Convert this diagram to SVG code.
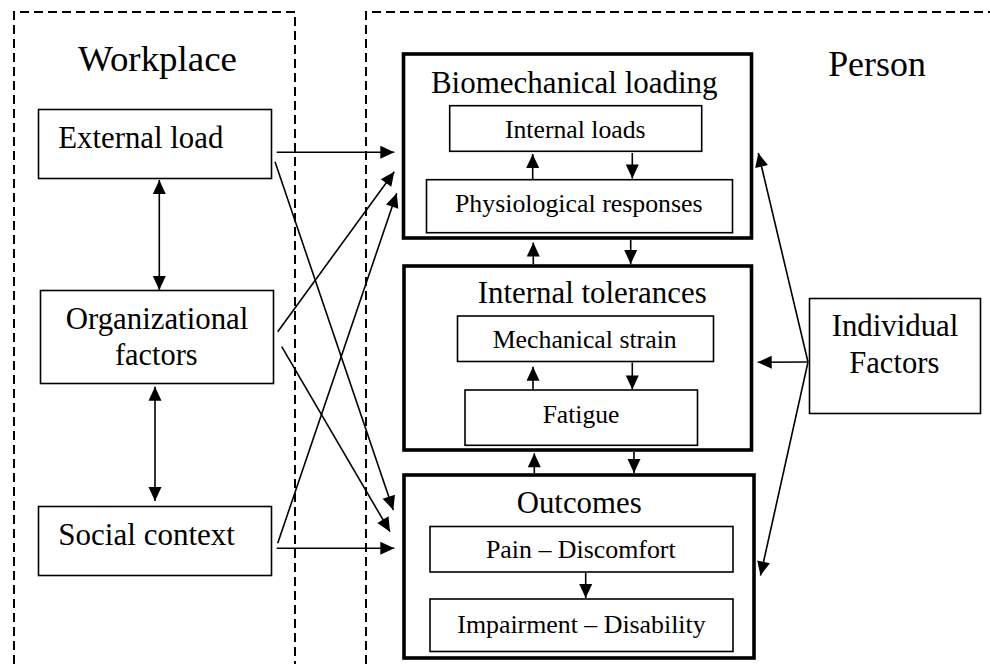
<svg xmlns="http://www.w3.org/2000/svg" width="990" height="664" viewBox="0 0 990 664" font-family="Liberation Serif, Times New Roman, Times, serif">
  <defs>
    <marker id="head" markerUnits="userSpaceOnUse" markerWidth="15" markerHeight="14" refX="14" refY="6.5" orient="auto-start-reverse" overflow="visible">
      <path d="M0,0 L14,6.5 L0,13 Z" fill="#000"/>
    </marker>
    <style>
      .frame { fill: none; stroke: #000; stroke-width: 2; stroke-dasharray: 9 5; }
      .box { fill: #fff; stroke: #000; stroke-width: 1.6; }
      .outer { fill: #fff; stroke: #000; stroke-width: 3.6; }
      text { fill: #000; }
      .big { font-size: 36px; }
      .main { font-size: 31px; }
      .sub { font-size: 26px; }
      .mid { text-anchor: middle; }
      .conn line { stroke: #000; stroke-width: 1.6; marker-end: url(#head); }
      .conn line.both { marker-start: url(#head); }
    </style>
  </defs>
  <rect width="990" height="664" fill="#fff"/>

  <!-- dashed frames: workplace and person -->
  <g id="frames">
    <path class="frame" d="M14,664 V12 H295 V664"/>
    <path class="frame" d="M366,664 V12 H990"/>
    <text class="big mid" x="157.5" y="71" textLength="159" lengthAdjust="spacingAndGlyphs">Workplace</text>
    <text class="big mid" x="877" y="76" textLength="97.7" lengthAdjust="spacingAndGlyphs">Person</text>
  </g>

  <!-- workplace nodes -->
  <g id="external-load">
    <rect class="box" x="38.5" y="109.5" width="233" height="69"/>
    <text class="main" x="58.3" y="148" textLength="165" lengthAdjust="spacingAndGlyphs">External load</text>
  </g>
  <g id="organizational-factors">
    <rect class="box" x="40.5" y="290.5" width="233" height="93"/>
    <text class="main mid" x="157" y="329.3" textLength="182.7" lengthAdjust="spacingAndGlyphs">Organizational</text>
    <text class="main mid" x="156.3" y="365" textLength="82.7" lengthAdjust="spacingAndGlyphs">factors</text>
  </g>
  <g id="social-context">
    <rect class="box" x="38.5" y="506.5" width="233" height="69"/>
    <text class="main" x="58.3" y="545" textLength="176.7" lengthAdjust="spacingAndGlyphs">Social context</text>
  </g>

  <!-- person nodes -->
  <g id="biomechanical-loading">
    <rect class="outer" x="403.5" y="54" width="348" height="184"/>
    <text class="main mid" x="574.3" y="93.3" textLength="286.7" lengthAdjust="spacingAndGlyphs">Biomechanical loading</text>
    <rect class="box" x="449.7" y="105.7" width="252" height="45.6"/>
    <text class="sub mid" x="575.3" y="137.7" textLength="140.7" lengthAdjust="spacingAndGlyphs">Internal loads</text>
    <rect class="box" x="426.5" y="179.7" width="306" height="53"/>
    <text class="sub mid" x="578.8" y="212.3" textLength="247.7" lengthAdjust="spacingAndGlyphs">Physiological responses</text>
  </g>
  <g id="internal-tolerances">
    <rect class="outer" x="404" y="266" width="347.5" height="184"/>
    <text class="main mid" x="592.2" y="303.3" textLength="229" lengthAdjust="spacingAndGlyphs">Internal tolerances</text>
    <rect class="box" x="457.5" y="316" width="256" height="45.5"/>
    <text class="sub mid" x="584.7" y="348.3" textLength="184" lengthAdjust="spacingAndGlyphs">Mechanical strain</text>
    <rect class="box" x="465" y="390" width="232.5" height="55.3"/>
    <text class="sub mid" x="581" y="423.3" textLength="76.7" lengthAdjust="spacingAndGlyphs">Fatigue</text>
  </g>
  <g id="outcomes">
    <rect class="outer" x="404" y="475" width="350" height="183"/>
    <text class="main mid" x="579.2" y="512.7" textLength="125" lengthAdjust="spacingAndGlyphs">Outcomes</text>
    <rect class="box" x="430" y="526.5" width="303" height="45.5"/>
    <text class="sub mid" x="580.8" y="558.3" textLength="189.7" lengthAdjust="spacingAndGlyphs">Pain – Discomfort</text>
    <rect class="box" x="430" y="599" width="303" height="52.5"/>
    <text class="sub mid" x="581.5" y="633.3" textLength="248.3" lengthAdjust="spacingAndGlyphs">Impairment – Disability</text>
  </g>
  <g id="individual-factors">
    <rect class="box" x="809.5" y="298.5" width="171" height="115"/>
    <text class="main mid" x="895" y="336" textLength="126.7" lengthAdjust="spacingAndGlyphs">Individual</text>
    <text class="main mid" x="894.3" y="373.3" textLength="90" lengthAdjust="spacingAndGlyphs">Factors</text>
  </g>

  <!-- connectors -->
  <g id="connectors" class="conn">
    <line x1="276.7" y1="152.3" x2="394.3" y2="152.3"/>
    <line x1="275" y1="161.7" x2="393.3" y2="510"/>
    <line x1="277.7" y1="331.7" x2="394.3" y2="171.7"/>
    <line x1="281.7" y1="346.7" x2="390" y2="531.7"/>
    <line x1="277.7" y1="543.3" x2="396.7" y2="193.3"/>
    <line x1="276.7" y1="548.3" x2="394.3" y2="548.3"/>
    <line class="both" x1="159.3" y1="180" x2="159.3" y2="290"/>
    <line class="both" x1="155" y1="386.7" x2="155" y2="501"/>

    <line x1="532.7" y1="179" x2="532.7" y2="154"/>
    <line x1="632.3" y1="153" x2="632.3" y2="178.5"/>
    <line x1="533.3" y1="264" x2="533.3" y2="242.5"/>
    <line x1="630.7" y1="240" x2="630.7" y2="264"/>
    <line x1="533" y1="389.5" x2="533" y2="366.7"/>
    <line x1="632.3" y1="362.5" x2="632.3" y2="389.5"/>
    <line x1="534.3" y1="473" x2="534.3" y2="453.3"/>
    <line x1="634" y1="452" x2="634" y2="473"/>
    <line x1="585.7" y1="572.5" x2="585.7" y2="598"/>

    <line x1="808" y1="362" x2="758.3" y2="153"/>
    <line x1="808" y1="362" x2="757.7" y2="362.3"/>
    <line x1="808" y1="362" x2="760.5" y2="575.5"/>
  </g>
</svg>
